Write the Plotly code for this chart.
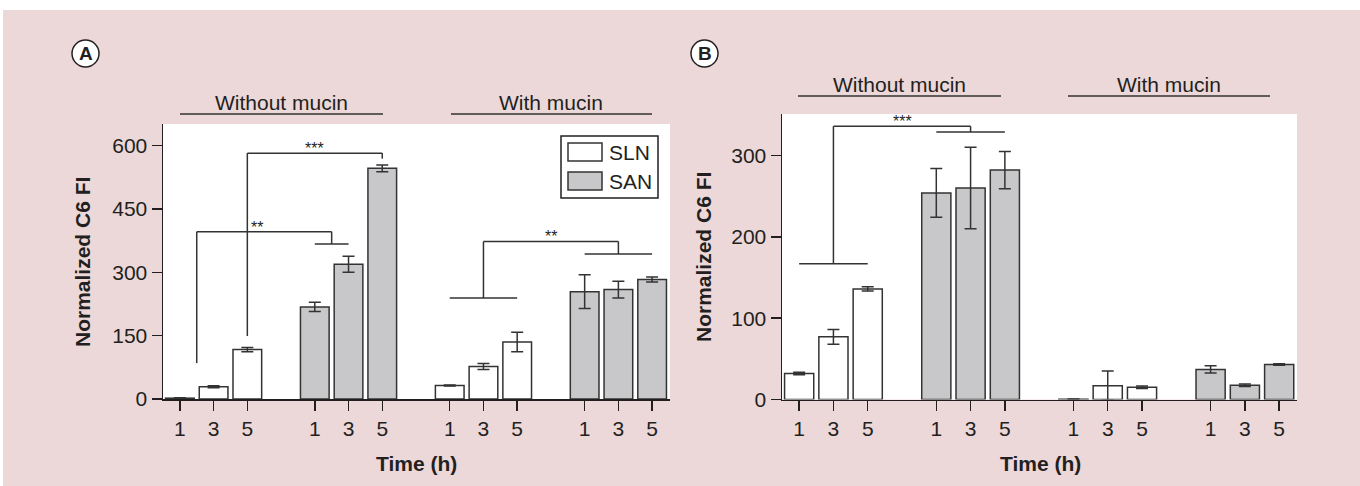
import plotly.graph_objects as go

W, H = 1360, 486

# ---------------- data ----------------
times = ["1", "3", "5"]
groups = ["SLN without mucin", "SAN without mucin", "SLN with mucin", "SAN with mucin"]

# Panel A
a_sln_without = [2, 29, 117]
a_sln_without_err = [1, 2.5, 5]
a_san_without = [218, 319, 546]
a_san_without_err = [11, 19, 8]
a_sln_with = [32, 77, 135]
a_sln_with_err = [1, 7, 23]
a_san_with = [254, 259, 283]
a_san_with_err = [40, 20, 6]

# Panel B
b_sln_without = [32, 77, 136]
b_sln_without_err = [1.5, 9, 2.5]
b_san_without = [254, 260, 282]
b_san_without_err = [30, 50, 23]
b_sln_with = [0.3, 17, 15]
b_sln_with_err = [0.3, 18, 1.5]
b_san_with = [37, 17.5, 43]
b_san_with_err = [4.5, 1.5, 1]

a_yticks = [0, 150, 300, 450, 600]
b_yticks = [0, 100, 200, 300]
a_yrange = [0, 651]
b_yrange = [0, 351]

# significance brackets: segments in (position, value) units, label position
a_brackets = [
    {"segs": [(0.5, 85, 0.5, 396), (0.5, 396, 4.5, 396), (4.5, 396, 4.5, 367), (4.0, 367, 5.0, 367)],
     "label": "**", "lx": 2.3, "ly": 396},
    {"segs": [(2, 149, 2, 582), (2, 582, 6, 582), (6, 582, 6, 569)],
     "label": "***", "lx": 4.0, "ly": 582},
    {"segs": [(8, 239, 10, 239), (9, 239, 9, 373), (9, 373, 13, 373), (13, 373, 13, 343), (12, 343, 14, 343)],
     "label": "**", "lx": 11.0, "ly": 373},
]
b_brackets = [
    {"segs": [(0, 167, 2, 167), (1, 167, 1, 336), (1, 336, 5, 336), (5, 336, 5, 329), (4, 329, 6, 329)],
     "label": "***", "lx": 3.0, "ly": 336},
]

# ---------------- style ----------------
FONT = "Liberation Sans, Arial, Helvetica, sans-serif"
INK = "#231f20"
LINE = "#333333"
PINK = "#ecd8d8"
GRAY = "#c8c8ca"


def pos(g, t):
    return 4 * g + t


def px(x):
    return x / W


def py(y):
    return (H - y) / H


fig = go.Figure()


def add_panel(xa, ya, sln_sets, san_sets):
    for sets, color, name in ((sln_sets, "white", "SLN"), (san_sets, GRAY, "SAN")):
        xs, ys, es = [], [], []
        for g, vals, errs in sets:
            for t in range(len(times)):
                xs.append(pos(g, t))
                ys.append(vals[t])
                es.append(errs[t])
        fig.add_trace(go.Bar(
            x=xs, y=ys, width=0.85, name=name, showlegend=False,
            marker=dict(color=color, line=dict(color=LINE, width=1.5)),
            error_y=dict(type="data", array=es, visible=True, color=LINE, thickness=1.5, width=6),
            xaxis=xa, yaxis=ya,
        ))


add_panel("x", "y",
          [(0, a_sln_without, a_sln_without_err), (2, a_sln_with, a_sln_with_err)],
          [(1, a_san_without, a_san_without_err), (3, a_san_with, a_san_with_err)])
add_panel("x2", "y2",
          [(0, b_sln_without, b_sln_without_err), (2, b_sln_with, b_sln_with_err)],
          [(1, b_san_without, b_san_without_err), (3, b_san_with, b_san_with_err)])

tickvals = [pos(g, t) for g in range(len(groups)) for t in range(len(times))]
ticktext = [times[t] for g in range(len(groups)) for t in range(len(times))]

axis_common = dict(showline=True, linecolor=INK, linewidth=1.5, ticks="outside", ticklen=10,
                   tickwidth=1.5, tickcolor=INK, showgrid=False, zeroline=False, automargin=False,
                   tickfont=dict(family=FONT, size=21, color=INK), fixedrange=True)

fig.update_layout(
    width=W, height=H, margin=dict(l=0, r=0, t=0, b=0, pad=0, autoexpand=False),
    paper_bgcolor=PINK, plot_bgcolor="white", bargap=0,
    xaxis=dict(domain=[px(163), px(670)], range=[-0.5, 14.53], tickvals=tickvals, ticktext=ticktext,
               anchor="y", **axis_common),
    yaxis=dict(domain=[py(399), py(124)], range=a_yrange, tickvals=a_yticks, anchor="x", **axis_common),
    xaxis2=dict(domain=[px(782), px(1297)], range=[-0.5, 14.52], tickvals=tickvals, ticktext=ticktext,
                anchor="y2", **axis_common),
    yaxis2=dict(domain=[py(399.5), py(114)], range=b_yrange, tickvals=b_yticks, anchor="x2", **axis_common),
)

shapes = []
annotations = []

# white border strips (outside the pink panel)
shapes.append(dict(type="rect", xref="paper", yref="paper", x0=0, x1=1, y0=py(10), y1=1,
                   fillcolor="white", line=dict(width=0), layer="below"))
shapes.append(dict(type="rect", xref="paper", yref="paper", x0=0, x1=px(3), y0=0, y1=1,
                   fillcolor="white", line=dict(width=0), layer="below"))

# brackets
for brs, xr, yr in ((a_brackets, "x", "y"), (b_brackets, "x2", "y2")):
    for br in brs:
        for (x0, y0, x1, y1) in br["segs"]:
            shapes.append(dict(type="line", xref=xr, yref=yr, x0=x0, y0=y0, x1=x1, y1=y1,
                               line=dict(color=LINE, width=1.5)))
        annotations.append(dict(xref=xr, yref=yr, x=br["lx"], y=br["ly"], text=br["label"],
                                showarrow=False, yanchor="bottom", yshift=-6,
                                font=dict(family=FONT, size=16, color=INK)))

# group header labels + lines
headers = [
    ("Without mucin", 281, 103, 180, 383, 114),
    ("With mucin", 551, 103, 451, 652, 114),
    ("Without mucin", 899, 84, 798, 1001, 96),
    ("With mucin", 1169, 84, 1068, 1270, 96),
]
for text, tx, ty, lx0, lx1, ly in headers:
    annotations.append(dict(xref="paper", yref="paper", x=px(tx), y=py(ty), text=text, showarrow=False,
                            xanchor="center", yanchor="middle",
                            font=dict(family=FONT, size=21, color=INK)))
    shapes.append(dict(type="line", xref="paper", yref="paper", x0=px(lx0), x1=px(lx1), y0=py(ly), y1=py(ly),
                       line=dict(color=LINE, width=1.5)))

# axis titles
for tx, ty in ((82, 262), (703, 257)):
    annotations.append(dict(xref="paper", yref="paper", x=px(tx), y=py(ty), text="<b>Normalized C6 FI</b>",
                            textangle=-90, showarrow=False, xanchor="center", yanchor="middle",
                            font=dict(family=FONT, size=21, color=INK)))
for tx in (416, 1040):
    annotations.append(dict(xref="paper", yref="paper", x=px(tx), y=py(463), text="<b>Time (h)</b>",
                            showarrow=False, xanchor="center", yanchor="middle",
                            font=dict(family=FONT, size=21, color=INK)))

# panel letters
for letter, cx, cy in (("A", 85.5, 53.5), ("B", 704.5, 53.5)):
    r = 13.5
    shapes.append(dict(type="circle", xref="paper", yref="paper", x0=px(cx - r), x1=px(cx + r),
                       y0=py(cy + r), y1=py(cy - r), fillcolor="white", line=dict(color=INK, width=1.5)))
    annotations.append(dict(xref="paper", yref="paper", x=px(cx), y=py(cy), text="<b>" + letter + "</b>",
                            showarrow=False, xanchor="center", yanchor="middle",
                            font=dict(family=FONT, size=19, color=INK)))

# legend (panel A)
shapes.append(dict(type="rect", xref="paper", yref="paper", x0=px(561), x1=px(658), y0=py(198), y1=py(136),
                   fillcolor="white", line=dict(color=INK, width=1.5)))
for name, color, y0, y1 in (("SLN", "white", 143, 161), ("SAN", GRAY, 172, 190)):
    shapes.append(dict(type="rect", xref="paper", yref="paper", x0=px(568), x1=px(602), y0=py(y1), y1=py(y0),
                       fillcolor=color, line=dict(color=LINE, width=1.5)))
    annotations.append(dict(xref="paper", yref="paper", x=px(607), y=py((y0 + y1) / 2), text=name,
                            showarrow=False, xanchor="left", yanchor="middle",
                            font=dict(family=FONT, size=21, color=INK)))

fig.update_layout(shapes=shapes, annotations=annotations)

fig.write_html(
    "out.html",
    config={"displayModeBar": False, "staticPlot": True},
    post_script=("document.body.style.margin='0';document.body.style.overflow='hidden';"
                 "document.documentElement.style.overflow='hidden';"),
)
